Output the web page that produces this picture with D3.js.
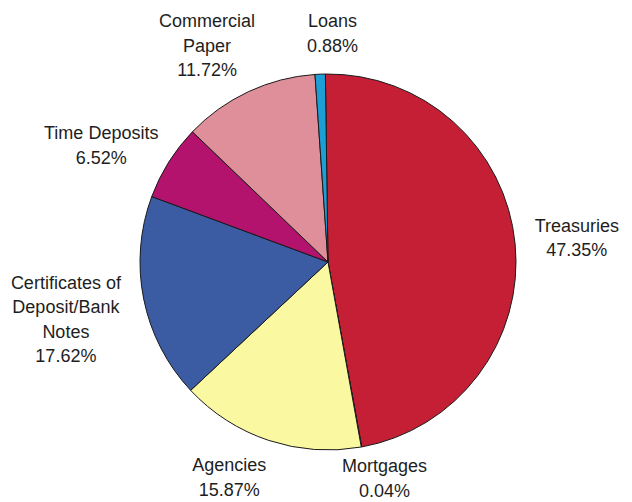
<!DOCTYPE html>
<html>
<head>
<meta charset="utf-8">
<script src="https://cdn.jsdelivr.net/npm/d3@7"></script>
<style>
  html, body { margin: 0; padding: 0; background: #ffffff; }
  svg { display: block; }
  text { font-family: "Liberation Sans", Arial, sans-serif; fill: #1e1e1e; }
</style>
</head>
<body>
<svg id="chart" width="632" height="502"></svg>
<script>
// Portfolio holdings by sector (percent of total), clockwise from 12 o'clock
const categories = ["Treasuries", "Mortgages", "Agencies", "Certificates of\nDeposit/Bank\nNotes", "Time Deposits", "Commercial\nPaper", "Loans"];
const values = [47.35, 0.04, 15.87, 17.62, 6.52, 11.72, 0.88];
const colors = ["#c51f36", "#2f6b3a", "#fbf8a2", "#3b5ca3", "#b3136d", "#df8f99", "#1d9fd6"];

const width = 632, height = 502;
const cx = 328, cy = 262, radius = 188;
const labelRadius = 250;
const start = -0.8 * Math.PI / 180;

// Small nudges so each label block sits clear of the pie edge
const labelNudge = {
  "Treasuries": [0, 0],
  "Mortgages": [12, -30],
  "Agencies": [-20, -22],
  "Certificates of\nDeposit/Bank\nNotes": [-17, 8],
  "Time Deposits": [-15, 16],
  "Commercial\nPaper": [-15, 10],
  "Loans": [15, 21]
};

const data = categories.map((c, i) => ({ name: c, value: values[i], color: colors[i] }));

const svg = d3.select("#chart");
const g = svg.append("g").attr("transform", `translate(${cx},${cy})`);

const pie = d3.pie().value(d => d.value).sort(null).startAngle(start).endAngle(start + 2 * Math.PI);
const arc = d3.arc().innerRadius(0).outerRadius(radius);
const labelArc = d3.arc().innerRadius(labelRadius).outerRadius(labelRadius);

const arcs = pie(data);

g.selectAll("path.slice")
  .data(arcs)
  .enter().append("path")
  .attr("class", "slice")
  .attr("d", arc)
  .attr("fill", d => d.data.color)
  .attr("stroke", "#1a1a1a")
  .attr("stroke-width", 1)
  .attr("stroke-linejoin", "round");

const lineH = 24.5;
const fontSize = 18;

g.selectAll("text.label")
  .data(arcs)
  .enter().append("text")
  .attr("class", "label")
  .attr("text-anchor", "middle")
  .attr("font-size", fontSize)
  .each(function (d) {
    const lines = d.data.name.split("\n").concat([d.data.value.toFixed(2) + "%"]);
    const [px, py] = labelArc.centroid(d);
    const [nx, ny] = labelNudge[d.data.name] || [0, 0];
    const x = px + nx, yc = py + ny;
    const top = yc - (lines.length - 1) * lineH / 2;
    const t = d3.select(this);
    lines.forEach((ln, i) => {
      t.append("tspan")
        .attr("x", x)
        .attr("y", top + i * lineH)
        .attr("dy", "0.35em")
        .text(ln);
    });
  });
</script>
</body>
</html>
